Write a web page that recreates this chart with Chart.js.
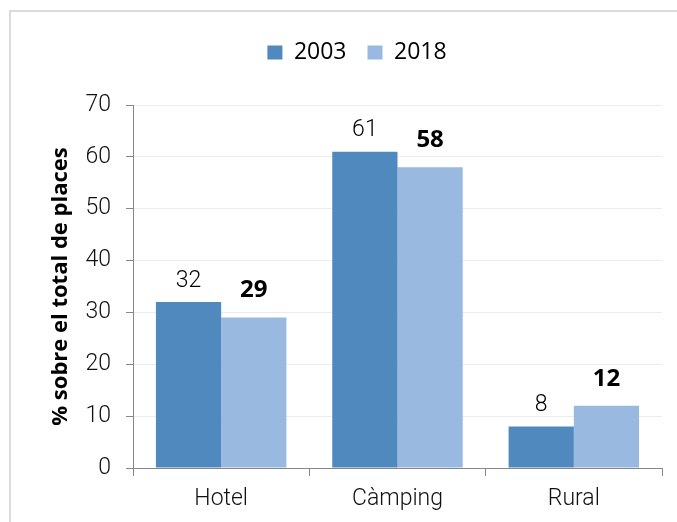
<!DOCTYPE html>
<html>
<head>
<meta charset="utf-8">
<script src="https://cdn.jsdelivr.net/npm/chart.js@4/dist/chart.umd.min.js"></script>
<style>
    html, body { margin: 0; padding: 0; background: #fff; }
    #wrap { width: 677px; height: 522px; position: relative; }
</style>
</head>
<body>
<div id="wrap"><canvas id="chart"></canvas></div>
<script>
// Data
const categories = ['Hotel', 'Càmping', 'Rural'];
const values2003 = [32, 61, 8];
const values2018 = [29, 58, 12];
const yTicks = [0, 10, 20, 30, 40, 50, 60, 70];

const thinFont = "Roboto, 'Liberation Sans', sans-serif";
const boldFont = "'Open Sans', 'Noto Sans', sans-serif";
const axisGray = '#878787';

// Frame around the chart (top + left edges only visible)
const framePlugin = {
    id: 'frame',
    beforeDraw(chart) {
        const ctx = chart.ctx;
        ctx.save();
        ctx.strokeStyle = '#dadada';
        ctx.lineWidth = 2;
        ctx.beginPath();
        ctx.moveTo(10, chart.height);
        ctx.lineTo(10, 11);
        ctx.lineTo(chart.width, 11);
        ctx.stroke();
        ctx.restore();
    }
};

// Legend: extra room below it, and nudged right like the original
const legendTweaks = {
    id: 'legendTweaks',
    beforeInit(chart) {
        const origFit = chart.legend.fit;
        chart.legend.fit = function () {
            origFit.bind(chart.legend)();
            this.height += 31;
        };
    },
    afterLayout(chart) {
        chart.legend.left += 26;
        chart.legend.right += 26;
    }
};

// Value labels above bars
const valueLabels = {
    id: 'valueLabels',
    afterDatasetsDraw(chart) {
        const ctx = chart.ctx;
        ctx.save();
        ctx.textAlign = 'center';
        ctx.textBaseline = 'middle';
        chart.data.datasets.forEach((ds, i) => {
            const meta = chart.getDatasetMeta(i);
            const bold = i === 1;
            ctx.font = bold ? `bold 24px ${boldFont}` : `300 23px ${thinFont}`;
            ctx.fillStyle = '#000';
            meta.data.forEach((bar, j) => {
                const offset = bold ? 27 : 21;
                ctx.fillText(String(ds.data[j]), bar.x, bar.y - offset);
            });
        });
        ctx.restore();
    }
};

new Chart(document.getElementById('chart'), {
    type: 'bar',
    data: {
        labels: categories,
        datasets: [
            { label: '2003', data: values2003, backgroundColor: '#4f89bd' },
            { label: '2018', data: values2018, backgroundColor: '#99b9e0' }
        ]
    },
    options: {
        responsive: true,
        maintainAspectRatio: false,
        animation: false,
        categoryPercentage: 0.74,
        barPercentage: 1.0,
        layout: { padding: { top: 20, right: 15, bottom: 0, left: 0 } },
        plugins: {
            legend: {
                display: true,
                position: 'top',
                labels: {
                    boxWidth: 15,
                    boxHeight: 14,
                    padding: 21,
                    color: '#000',
                    font: { family: boldFont, size: 23 }
                }
            },
            tooltip: { enabled: false }
        },
        scales: {
            x: {
                afterFit(scale) { scale.height = 54; },
                grid: {
                    display: true,
                    drawOnChartArea: false,
                    offset: true,
                    tickLength: 8,
                    tickColor: axisGray
                },
                border: { color: axisGray, width: 1 },
                ticks: {
                    color: '#111',
                    padding: 9,
                    font: { family: thinFont, size: 23, weight: '300' }
                }
            },
            y: {
                min: 0,
                max: 70,
                afterFit(scale) { scale.width = 133; },
                afterBuildTicks(scale) {
                    scale.ticks = yTicks.map(v => ({ value: v }));
                },
                grid: {
                    color: '#ececec',
                    tickLength: 7,
                    tickColor: axisGray
                },
                border: { color: axisGray, width: 1 },
                ticks: {
                    color: '#111',
                    padding: 15,
                    font: { family: thinFont, size: 23, weight: '300' }
                },
                title: {
                    display: true,
                    text: '% sobre el total de places',
                    color: '#000',
                    padding: { top: 48, bottom: 0 },
                    font: { family: boldFont, size: 22, weight: 'bold' }
                }
            }
        }
    },
    plugins: [framePlugin, legendTweaks, valueLabels]
});
</script>
</body>
</html>
